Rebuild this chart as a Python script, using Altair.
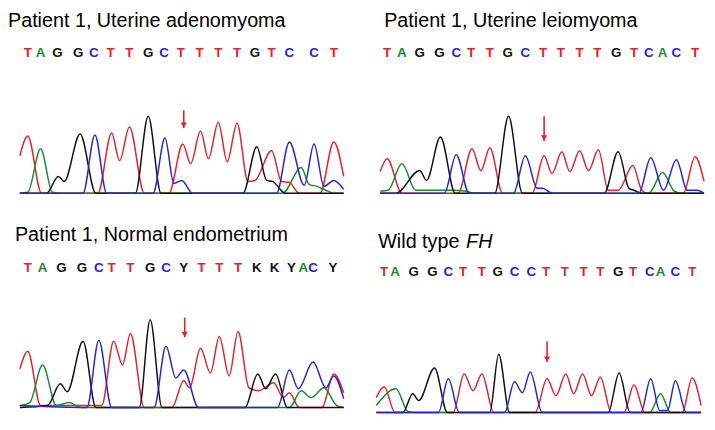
import altair as alt
import pandas as pd

# ---------------- data (scan position, signal intensity) ----------------
# Panel 1: Patient 1, Uterine adenomyoma
P1_T = [(0,39),(8,59),(22,1),(79,1),(93,62),(101,34),(111,68),(126,1),(151,1),(165,51),(173,31),(183,64),(191,36),(201,73),(210,33),(220,72),(231,13),(238,14),(255,44),(265,13),(273,12),(283,1),(304,1),(318,53),(328,18)]
P1_G = [(0,1),(27,1),(39,18),(45,13),(61,61),(77,1),(117,1),(130,79),(143,1),(226,1),(240,48),(250,14),(256,13),(269,1),(328,1)]
P1_C = [(0,1),(64,1),(76,60),(88,1),(135,1),(147,57),(156,11),(164,14),(175,1),(260,1),(273,53),(288,9),(298,51),(308,8),(318,14),(328,5)]
P1_A = [(0,1),(8,2),(21,46),(33,2),(42,1),(266,1),(285,27),(293,10),(301,8),(310,4),(319,1),(328,1)]
P1_SEQ = ["T","A","G","G","C","T","T","G","C","T","T","T","T","G","T","C","C","T"]
P1_SEQ_X = [8,21,38,59,75,92,111,130,146,163,182,201,220,238,255,273,298,318]
P1_ARROW = (166, 85, 67)

# Panel 2: Patient 1, Uterine leiomyoma
P2_T = [(0,24),(7,37),(22,2),(79,2),(93,47),(102,25),(111,48),(124,2),(154,2),(166,40),(174,22),(184,44),(192,24),(202,45),(211,25),(221,46),(231,5),(241,5),(256,30),(264,7),(270,2),(307,2),(319,39),(328,14)]
P2_G = [(0,2),(16,2),(40,25),(47,15),(61,59),(76,2),(116,2),(130,80),(144,2),(227,2),(241,44),(252,7),(257,5),(265,2),(328,2)]
P2_C = [(0,2),(65,2),(77,41),(90,2),(135,2),(147,40),(159,7),(164,7),(175,2),(262,2),(274,38),(287,5),(300,36),(311,5),(321,5),(328,2)]
P2_A = [(0,4),(8,5),(22,32),(36,5),(51,5),(74,5),(87,4),(95,2),(272,2),(286,23),(298,4),(306,2),(328,2)]
P2_SEQ = ["T","A","G","G","C","T","T","G","C","T","T","T","T","G","T","C","A","C","T"]
P2_SEQ_X = [7,22,40,60,77,92,111,129,147,165,183,202,220,239,257,272,286,300,319]
P2_ARROW = (166, 80, 55)

# Panel 3: Patient 1, Normal endometrium
P3_T = [(0,40),(8,58),(21,3),(83,3),(95,68),(104,44),(112,76),(126,1),(154,1),(166,28),(172,21),(183,61),(193,36),(202,73),(212,33),(221,78),(232,21),(242,18),(257,26),(267,11),(273,16),(283,1),(306,1),(318,35),(328,16)]
P3_G = [(0,1),(28,3),(41,25),(48,17),(64,68),(77,1),(121,1),(132,90),(144,1),(228,1),(241,35),(249,20),(259,35),(271,1),(328,1)]
P3_C = [(0,3),(68,1),(80,69),(93,1),(136,1),(148,63),(158,31),(166,39),(181,1),(261,1),(273,39),(282,20),(297,47),(310,21),(318,33),(328,10)]
P3_A = [(0,3),(10,6),(23,44),(37,3),(50,6),(62,1),(273,1),(285,18),(295,11),(308,21),(321,3),(328,1)]
P3_SEQ = ["T","A","G","G","C","T","T","G","C","Y","T","T","T","K","K","Y","A","C","Y"]
P3_SEQ_X = [8,23,42,63,80,93,112,132,148,166,184,202,221,240,258,275,287,297,317]
P3_ARROW = (167, 92, 72)

# Panel 4: Wild type FH
P4_T = [(0,16),(8,27),(19,1),(78,1),(89,40),(98,23),(107,40),(119,1),(161,1),(173,35),(182,18),(192,40),(200,20),(209,40),(218,18),(227,37),(238,1),(251,1),(261,29),(272,1),(310,1),(320,36),(329,8)]
P4_G = [(0,1),(27,1),(37,20),(43,13),(59,46),(72,1),(115,1),(124,60),(135,1),(235,1),(246,41),(257,1),(329,1)]
P4_C = [(0,1),(63,1),(73,35),(84,1),(130,1),(140,32),(148,21),(156,42),(168,1),(268,1),(278,35),(287,3),(295,3),(303,33),(314,1),(329,1)]
P4_A = [(0,8),(20,25),(32,2),(40,1),(277,1),(288,20),(298,1),(329,1)]
P4_SEQ = ["T","A","G","G","C","T","T","G","C","C","T","T","T","T","G","T","C","A","C","T"]
P4_SEQ_X = [8,19,38,57,73,88,107,123,140,157,172,191,210,227,245,260,277,288,303,320]
P4_ARROW = (173, 73, 52)

BASES = ["T", "A", "G", "C", "Y", "K"]
BASE_COLORS = ["#e3232b", "#1c8a2a", "#111111", "#2525d6", "#111111", "#111111"]
RED = "#e3232b"
FONT = "Liberation Sans"


def trace_frame(channels):
    rows = []
    for base, pts in channels:
        for i, (x, y) in enumerate(pts):
            rows.append({"base": base, "x": x, "y": y, "i": i})
    return pd.DataFrame(rows)


def panel(title, italic, italic_dx, seq, seq_x, channels, arrow,
          width, height, title_dx, title_y, letters_y):
    xs = alt.Scale(domain=[0, width], nice=False, zero=False)
    ys = alt.Scale(domain=[0, height], nice=False, zero=False)
    color = alt.Color("base:N", scale=alt.Scale(domain=BASES, range=BASE_COLORS), legend=None)

    lines = alt.Chart(trace_frame(channels)).mark_line(
        interpolate="monotone", strokeWidth=1.5
    ).encode(
        x=alt.X("x:Q", scale=xs, axis=None),
        y=alt.Y("y:Q", scale=ys, axis=None),
        color=color,
        order=alt.Order("i:Q"),
    )

    letters = alt.Chart(pd.DataFrame({"x": seq_x, "base": seq})).mark_text(
        font=FONT, fontSize=13.5, fontWeight="bold", align="center", baseline="middle"
    ).encode(
        x=alt.X("x:Q", scale=xs, axis=None),
        y=alt.value(letters_y),
        text="base:N",
        color=color,
    )

    adf = pd.DataFrame({"x": [arrow[0]], "top": [arrow[1]], "tip": [arrow[2]]})
    shaft = alt.Chart(adf).mark_rule(color=RED, strokeWidth=1.6).encode(
        x=alt.X("x:Q", scale=xs, axis=None),
        y=alt.Y("top:Q", scale=ys, axis=None),
        y2="tip:Q",
    )
    head = alt.Chart(adf).mark_point(
        shape="triangle-down", filled=True, size=40, color=RED, opacity=1, yOffset=-3
    ).encode(
        x=alt.X("x:Q", scale=xs, axis=None),
        y=alt.Y("tip:Q", scale=ys, axis=None),
    )

    ttl = alt.Chart(pd.DataFrame({"t": [title]})).mark_text(
        font=FONT, fontSize=20, align="left", baseline="alphabetic", color="black"
    ).encode(x=alt.value(title_dx), y=alt.value(title_y), text="t:N")

    layers = [lines, letters, shaft, head, ttl]
    if italic:
        it = alt.Chart(pd.DataFrame({"t": [italic]})).mark_text(
            font=FONT, fontSize=20, fontStyle="italic", align="left",
            baseline="alphabetic", color="black"
        ).encode(x=alt.value(italic_dx), y=alt.value(title_y), text="t:N")
        layers.append(it)

    return alt.layer(*layers).properties(width=width, height=height)


p1 = panel("Patient 1, Uterine adenomyoma", None, 0, P1_SEQ, P1_SEQ_X,
           [("T", P1_T), ("A", P1_A), ("G", P1_G), ("C", P1_C)], P1_ARROW,
           328, 186, -12, 17, 43)
p2 = panel("Patient 1, Uterine leiomyoma", None, 0, P2_SEQ, P2_SEQ_X,
           [("T", P2_T), ("A", P2_A), ("G", P2_G), ("C", P2_C)], P2_ARROW,
           328, 187, 4, 17, 43)
p3 = panel("Patient 1, Normal endometrium", None, 0, P3_SEQ, P3_SEQ_X,
           [("T", P3_T), ("A", P3_A), ("G", P3_G), ("C", P3_C)], P3_ARROW,
           328, 187, -5, 17, 45)
p4 = panel("Wild type ", "FH", 91, P4_SEQ, P4_SEQ_X,
           [("T", P4_T), ("A", P4_A), ("G", P4_G), ("C", P4_C)], P4_ARROW,
           329, 192, 2, 24, 49)

row1 = alt.hconcat(p1, p2, spacing=31)
row2 = alt.hconcat(p3, p4, spacing=27)
chart = alt.vconcat(row1, row2, spacing=28).properties(
    padding=0, background="white"
).configure_view(strokeWidth=0)

chart.save("out.html", embed_options={"renderer": "svg", "actions": False})
